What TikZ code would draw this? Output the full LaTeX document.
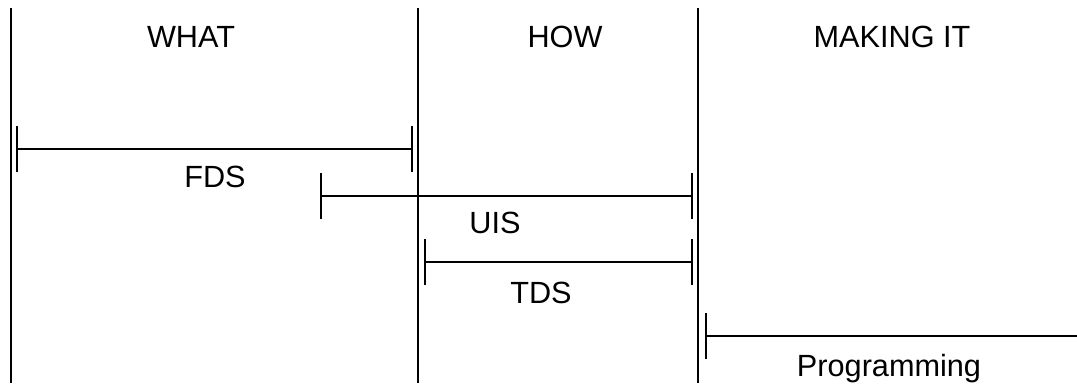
\documentclass[tikz,border=0pt]{standalone}
\usepackage{fontspec}
\setmainfont{Liberation Sans}
\usetikzlibrary{arrows.meta}
\begin{document}
\begin{tikzpicture}[x=0.75pt,y=-0.75pt,
  line width=1.4pt,
  lbl/.style={anchor=base,inner sep=0pt,font=\fontsize{23}{27}\selectfont},
  divider/.style={draw=black},
  span/.style={draw=black,{Bar[width=34.5pt]}-{Bar[width=34.5pt]}},
  openspan/.style={draw=black,{Bar[width=34.5pt]}-}]
\useasboundingbox (0,0) rectangle (1077,383);
% dividers
\coordinate (d1t) at (11,8);   \coordinate (d1b) at (11,383);
\coordinate (d2t) at (418,8);  \coordinate (d2b) at (418,383);
\coordinate (d3t) at (698,8);  \coordinate (d3b) at (698,383);
\draw[divider] (d1t) -- (d1b);
\draw[divider] (d2t) -- (d2b);
\draw[divider] (d3t) -- (d3b);
% headers
\node[lbl] (what) at (191,47) {WHAT};
\node[lbl] (how) at (565,47) {HOW};
\node[lbl] (making) at (892,47) {MAKING IT};
% spans
\coordinate (fdsA) at (16,149);  \coordinate (fdsB) at (413,149);
\coordinate (uisA) at (320,196); \coordinate (uisB) at (693,196);
\coordinate (tdsA) at (424,262); \coordinate (tdsB) at (693,262);
\coordinate (prgA) at (705,336); \coordinate (prgB) at (1080,336);
\draw[span] (fdsA) -- (fdsB);
\draw[span] (uisA) -- (uisB);
\draw[span] (tdsA) -- (tdsB);
\draw[openspan] (prgA) -- (prgB);
% span labels
\node[lbl] (fds) at (215,187) {FDS};
\node[lbl] (uis) at (495,233) {UIS};
\node[lbl] (tds) at (541,303) {TDS};
\node[lbl] (prog) at (889,376) {Programming};
\end{tikzpicture}
\end{document}
